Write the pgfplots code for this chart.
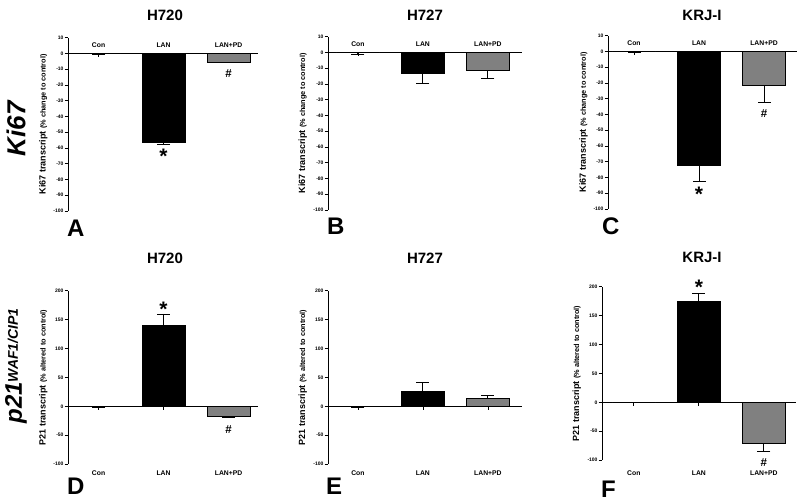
\documentclass[border=0pt]{standalone}
\usepackage{fontspec}
\setmainfont{Liberation Sans}
\usepackage{pgfplots}
\pgfplotsset{compat=1.18}
\definecolor{bargray}{RGB}{128,128,128}
\pgfplotsset{
  panel/.style={
    anchor=south west,
    x=65pt,
    axis y line=left, axis x line=middle,
    axis line style={-, line width=0.9pt},
    xtick={0,1,2}, xticklabels={Con,LAN,LAN+PD},
    clip=false,
    tick align=outside, major tick length=3.5pt,
    tick style={line width=0.8pt, black},
    /pgf/number format/assume math mode=true,
    yticklabel style={font=\fontsize{5}{6}\selectfont\bfseries, inner sep=0.8pt},
    xticklabel style={font=\fontsize{6.8}{7}\selectfont\bfseries},
    every axis y label/.style={at={(axis description cs:-0.13,0.5)}, rotate=90, anchor=center, font=\fontsize{9}{10}\selectfont},
  },
  ki/.style={panel, y=1.575pt, ymin=-100, ymax=10, ytick={10,0,-10,...,-100},
    xticklabel style={anchor=south, inner sep=0pt, yshift=9pt},
    ylabel={\textbf{Ki67 transcript} {\fontsize{7.3}{8}\selectfont\bfseries (\% change to control)}}},
  pp/.style={panel, y=0.577pt, ymin=-100, ymax=200, ytick={200,150,...,-100},
    xticklabel style={anchor=north, yshift=-57.7pt},
    ylabel={\textbf{P21 transcript} {\fontsize{7.3}{8}\selectfont\bfseries (\% altered to control)}}},
  bb/.style={ybar, bar width=43pt, bar shift=0pt, draw=black, line width=1.1pt,
    error bars/y explicit,
    error bars/error bar style={line width=0.9pt, black},
    error bars/error mark options={rotate=90, line width=0.9pt, mark size=6.5pt, black}},
  dn/.style={bb, error bars/y dir=minus},
  up/.style={bb, error bars/y dir=plus},
}
\newcommand{\st}[1]{\node[font=\fontsize{21}{21}\selectfont\bfseries, yshift=-4pt] at (axis cs:#1) {*};}
\newcommand{\hs}[1]{\node[font=\fontsize{11.5}{12}\selectfont\bfseries] at (axis cs:#1) {\#};}
\begin{document}
\begin{tikzpicture}
\path[use as bounding box] (0pt,0pt) rectangle (800pt,502pt);
% titles
\node[font=\fontsize{15}{16}\selectfont\bfseries] at (165pt,487pt) {H720};
\node[font=\fontsize{15}{16}\selectfont\bfseries] at (425pt,487pt) {H727};
\node[font=\fontsize{15}{16}\selectfont\bfseries] at (702pt,487pt) {KRJ-I};
\node[font=\fontsize{15}{16}\selectfont\bfseries] at (165pt,244pt) {H720};
\node[font=\fontsize{15}{16}\selectfont\bfseries] at (425pt,244pt) {H727};
\node[font=\fontsize{15}{16}\selectfont\bfseries] at (702pt,245pt) {KRJ-I};
% letters
\node[font=\fontsize{24}{24}\selectfont\bfseries, anchor=base west, inner sep=0pt] at (67pt,265pt) {A};
\node[font=\fontsize{24}{24}\selectfont\bfseries, anchor=base west, inner sep=0pt] at (327pt,267pt) {B};
\node[font=\fontsize{24}{24}\selectfont\bfseries, anchor=base west, inner sep=0pt] at (602pt,267pt) {C};
\node[font=\fontsize{24}{24}\selectfont\bfseries, anchor=base west, inner sep=0pt] at (67pt,7pt) {D};
\node[font=\fontsize{24}{24}\selectfont\bfseries, anchor=base west, inner sep=0pt] at (326pt,7pt) {E};
\node[font=\fontsize{24}{24}\selectfont\bfseries, anchor=base west, inner sep=0pt] at (601pt,4pt) {F};
% row labels
\node[rotate=90, font=\fontsize{26}{26}\selectfont\bfseries\itshape] at (16pt,373pt) {Ki67};
\node[rotate=90, font=\bfseries\itshape] at (16pt,136pt) {{\fontsize{24}{24}\selectfont p21}{\fontsize{14}{14}\selectfont\raisebox{4pt}{WAF1/CIP1}}};

% A
\begin{axis}[ki, at={(68pt,291pt)}, xmin=-0.47, xmax=2.45]
\addplot[dn, fill=white] coordinates {(0,0) +- (0,0.5)};
\addplot[dn, fill=black] coordinates {(1,-56.3) +- (0,1.5)};
\addplot[dn, fill=bargray] coordinates {(2,-5.5) +- (0,0.5)};
\st{1,-63}
\hs{2,-12.5}
\end{axis}
% B
\begin{axis}[ki, at={(328pt,292pt)}, xmin=-0.46, xmax=2.52]
\addplot[dn, fill=white] coordinates {(0,0) +- (0,1)};
\addplot[dn, fill=black] coordinates {(1,-13.1) +- (0,6.4)};
\addplot[dn, fill=bargray] coordinates {(2,-11.4) +- (0,5.3)};
\end{axis}
% C
\begin{axis}[ki, at={(608pt,293pt)}, xmin=-0.4, xmax=2.5]
\addplot[dn, fill=white] coordinates {(0,0) +- (0,0.5)};
\addplot[dn, fill=black] coordinates {(1,-72.5) +- (0,10.1)};
\addplot[dn, fill=bargray] coordinates {(2,-21.6) +- (0,11)};
\st{1,-88}
\hs{2,-39.5}
\end{axis}
% D
\begin{axis}[pp, at={(68pt,38pt)}, xmin=-0.47, xmax=2.45]
\addplot[dn, fill=white] coordinates {(0,-1) +- (0,0.5)};
\addplot[up, fill=black] coordinates {(1,140) +- (0,20)};
\addplot[dn, fill=bargray] coordinates {(2,-17) +- (0,1.5)};
\st{1,175}
\hs{2,-41}
\end{axis}
% E
\begin{axis}[pp, at={(328pt,38pt)}, xmin=-0.46, xmax=2.52]
\addplot[dn, fill=white] coordinates {(0,-1) +- (0,0.5)};
\addplot[up, fill=black] coordinates {(1,26) +- (0,16)};
\addplot[up, fill=bargray] coordinates {(2,14) +- (0,4)};
\end{axis}
% F
\begin{axis}[pp, at={(602pt,42pt)}, xmin=-0.49, xmax=2.5, xticklabel style={yshift=-4pt}]
\addplot[dn, fill=white] coordinates {(0,0) +- (0,0.5)};
\addplot[up, fill=black] coordinates {(1,174) +- (0,15)};
\addplot[dn, fill=bargray] coordinates {(2,-71.6) +- (0,14.4)};
\st{1,206}
\hs{2,-104}
\end{axis}
\end{tikzpicture}
\end{document}
